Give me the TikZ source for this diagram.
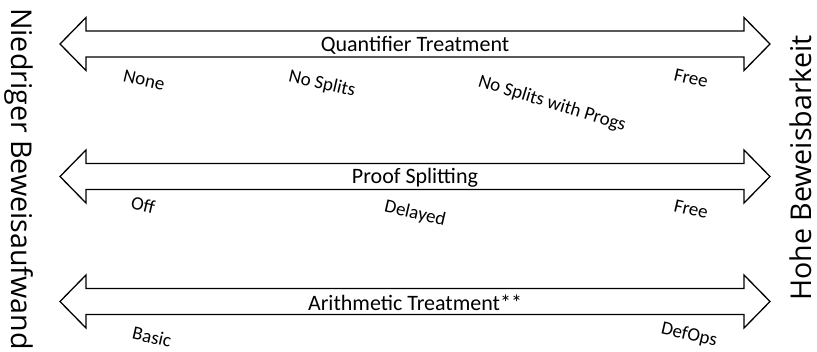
\documentclass[tikz,border=0pt]{standalone}
\usepackage{fontspec}
\setmainfont{Carlito}
\newfontfamily\sidefont{Open Sans}
\begin{document}
\begin{tikzpicture}[x=1pt,y=-1pt,
  arrowbody/.style={draw=black, line width=1.3pt, line join=miter, fill=white},
  title/.style={font=\fontsize{22}{26}\selectfont, inner sep=0pt, anchor=base},
  level/.style={font=\fontsize{19}{22}\selectfont, inner sep=0pt, rotate=-13},
  side/.style={font=\sidefont\fontsize{28.6}{32}\selectfont, inner sep=0pt, anchor=base},
  dblarrow/.pic={\path[arrowbody] (-355,0) -- (-329,-26.5) -- (-329,-13) -- (329,-13)
      -- (329,-26.5) -- (355,0) -- (329,26.5) -- (329,13) -- (-329,13) -- (-329,26.5) -- cycle;}
]
\useasboundingbox[fill=white] (0,0) rectangle (817,351);

% three double-headed scales
\pic (quant) at (415,44) {dblarrow};
\pic (split) at (415,176.5) {dblarrow};
\pic (arith) at (415,301.5) {dblarrow};

% scale titles
\node[title] (tquant) at (415,51) {Quantifier Treatment};
\node[title] (tsplit) at (415,183) {Proof Splitting};
\node[title] (tarith) at (415,310) {Arithmetic Treatment**};

% settings along each scale
\node[level] (qnone) at (144,80) {None};
\node[level] (qnosplit) at (322,84) {No Splits};
\node[level, rotate=-4] (qprogs) at (552,104) {No Splits with Progs};
\node[level] (qfree) at (691,78) {Free};

\node[level] (soff) at (143,205) {Off};
\node[level] (sdelay) at (415,214) {Delayed};
\node[level] (sfree) at (691,209) {Free};

\node[level] (abasic) at (152,337) {Basic};
\node[level] (adefops) at (689,335) {DefOps};

% axis ends
\node[side, rotate=-90] (low) at (12,179) {Niedriger Beweisaufwand};
\node[side, rotate=90] (high) at (811,168) {Hohe Beweisbarkeit};
\end{tikzpicture}
\end{document}
